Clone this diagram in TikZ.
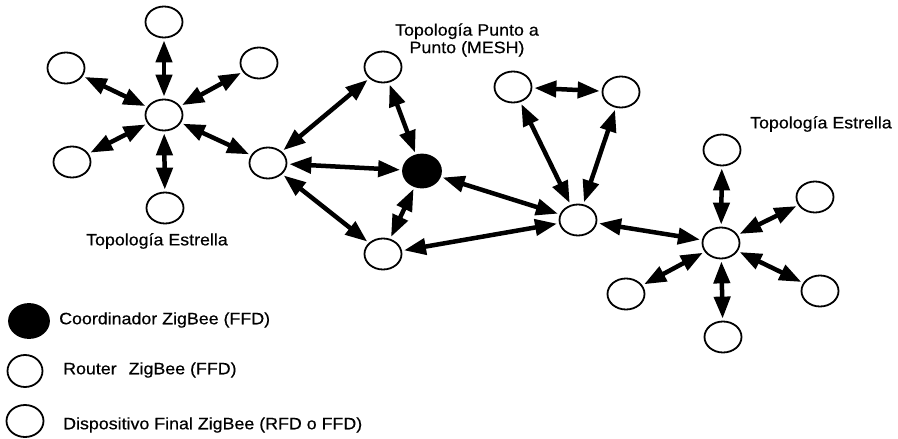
\documentclass[tikz,border=0pt]{standalone}
\usepackage{fontspec}
\setmainfont{Liberation Sans}[FakeStretch=1.08,FakeBold=0.5]
\usetikzlibrary{arrows.meta,shapes.geometric}
\begin{document}
\begin{tikzpicture}[x=1pt,y=-1pt,
  dev/.style={draw, ellipse, line width=1.8pt, minimum width=37pt, minimum height=31pt, inner sep=0pt},
  coord/.style={dev, fill=black, minimum width=38pt, minimum height=33pt},
  link/.style={{Triangle[length=22pt,width=16pt]}-{Triangle[length=22pt,width=16pt]}, line width=4.5pt, shorten <=2pt, shorten >=2pt},
  lbl/.style={font=\fontsize{16.5}{17.5}\selectfont, inner sep=0pt, align=center}]
\useasboundingbox (0,0) rectangle (898,439);

% left star
\node[dev] (l0) at (164,115) {};
\node[dev] (l1) at (164,22) {};
\node[dev] (l2) at (66,68) {};
\node[dev] (l3) at (259,63) {};
\node[dev] (l4) at (72,162) {};
\node[dev] (l5) at (165,208) {};
\node[lbl] (tl) at (157,241) {Topología Estrella};

% mesh
\node[dev] (r1) at (268,163) {};
\node[dev] (mt) at (383,67) {};
\node[coord] (c) at (422,171) {};
\node[dev] (mb) at (383,254) {};
\node[dev] (r2) at (578,220) {};
\node[dev] (u1) at (513,87) {};
\node[dev] (u2) at (621,92) {};
\node[lbl] (tm) at (467,40) {Topología Punto a\\Punto (MESH)};

% right star
\node[dev] (s0) at (721,243) {};
\node[dev] (s1) at (722,150) {};
\node[dev] (s2) at (815,197) {};
\node[dev] (s3) at (820,291) {};
\node[dev] (s4) at (723,337) {};
\node[dev] (s5) at (626,294) {};
\node[lbl] (tr) at (821,124) {Topología Estrella};

% links
\foreach \n in {l1,l2,l3,l4,l5,r1} \draw[link] (l0) -- (\n);
\draw[link] (r1) -- (mt);
\draw[link] (r1) -- (c);
\draw[link] (r1) -- (mb);
\draw[link] (mt) -- (c);
\draw[link] (c) -- (mb);
\draw[link] (c) -- (r2);
\draw[link] (mb) -- (r2);
\draw[link] (u1) -- (r2);
\draw[link] (u2) -- (r2);
\draw[link] (u1) -- (u2);
\draw[link] (r2) -- (s0);
\foreach \n in {s1,s2,s3,s4,s5} \draw[link] (s0) -- (\n);

% legend
\node[coord, minimum width=40pt, minimum height=34pt] (k1) at (29,321) {};
\node[dev, minimum width=35pt, minimum height=32pt] (k2) at (25,371) {};
\node[dev, minimum width=37pt, minimum height=32pt] (k3) at (25,421) {};
\node[lbl, anchor=west] (t1) at (59,320) {Coordinador ZigBee (FFD)};
\node[lbl, anchor=west] (t2) at (63,370) {Router\hspace{12pt}ZigBee (FFD)};
\node[lbl, anchor=west] (t3) at (63,425) {Dispositivo Final ZigBee (RFD o FFD)};
\end{tikzpicture}
\end{document}
